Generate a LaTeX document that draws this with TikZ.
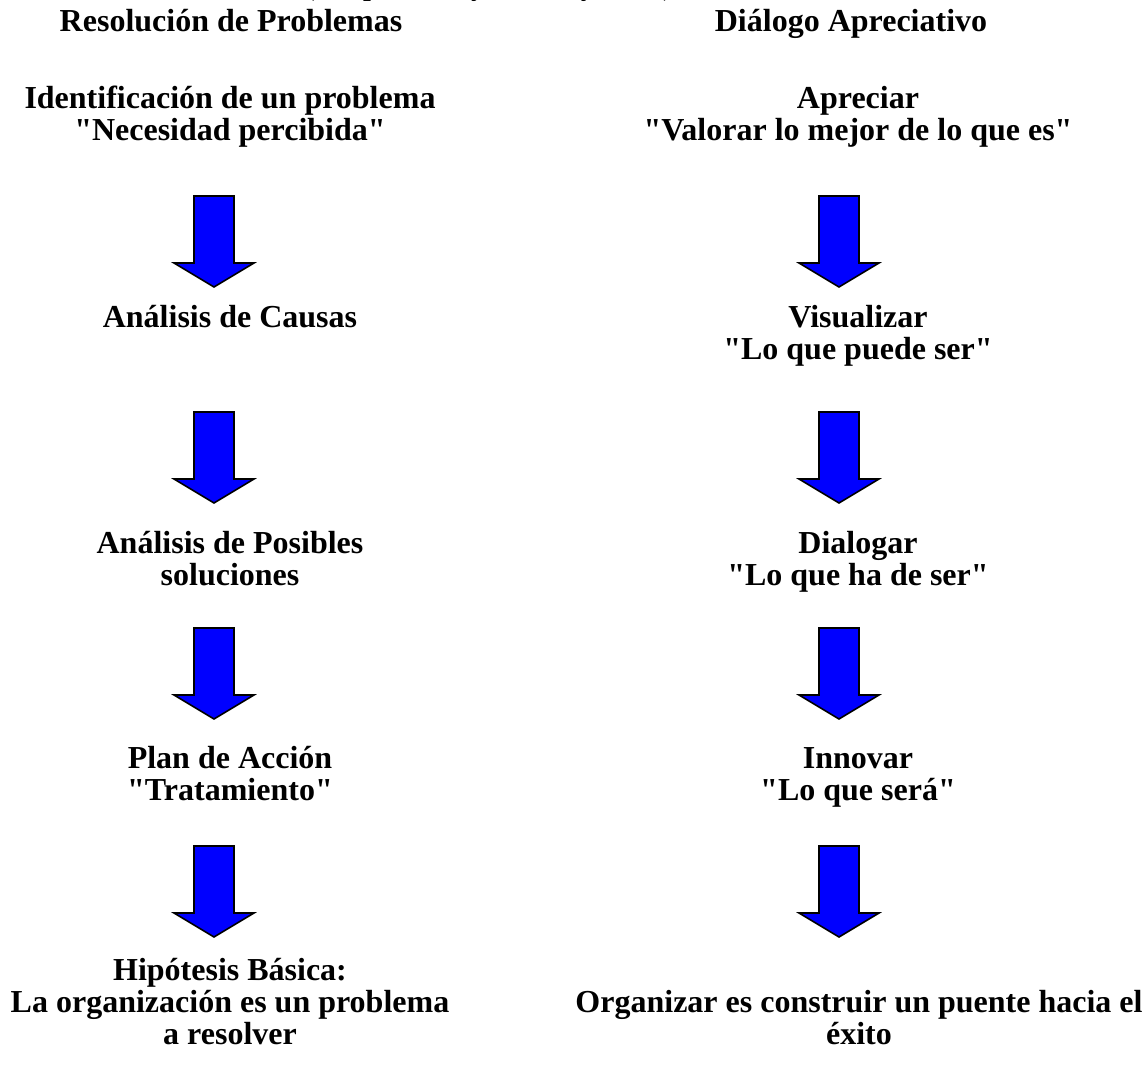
\documentclass[tikz,border=0pt]{standalone}
\usepackage{fontspec}
\setmainfont{Liberation Serif}[Ligatures=TeXOff]
\tikzset{
  lbl/.style={font={\fontsize{32}{32}\selectfont\bfseries}, align=center, anchor=base, inner sep=0pt},
  ttl/.style={font={\fontsize{28}{30}\selectfont\bfseries}, align=center, anchor=base, inner sep=0pt},
  blockarrow/.style={fill={rgb,255:red,0;green,0;blue,255}, draw=black, line width=1.6pt, line join=miter},
  darrow/.pic={\draw[blockarrow] (-20,0) -- (20,0) -- (20,67) -- (40,67) -- (0,91) -- (-40,67) -- (-20,67) -- cycle;}
}
\begin{document}
\begin{tikzpicture}[x=1pt,y=-1pt]
\useasboundingbox (0,0) rectangle (1145,1067);
\clip (0,0) rectangle (1145,1067);
\fill[white] (0,0) rectangle (1145,1067);
\node[ttl] (cite) at (489,-4.5) {(Cooperrider y Whitney, 2001)};
\node[lbl] (hl) at (231,32) {Resolución de Problemas};
\node[lbl] (hr) at (851,32) {Diálogo Apreciativo};
\node[lbl] (l0) at (230,141) {Identificación de un problema\\"Necesidad percibida"};
\node[lbl] (r0) at (858,141) {Apreciar\\"Valorar lo mejor de lo que es"};
\node[lbl] (l1) at (230,327) {Análisis de Causas};
\node[lbl] (r1) at (858,359) {Visualizar\\"Lo que puede ser"};
\node[lbl] (l2) at (230,585) {Análisis de Posibles\\soluciones};
\node[lbl] (r2) at (858,585) {Dialogar\\"Lo que ha de ser"};
\node[lbl] (l3) at (230,800) {Plan de Acción\\"Tratamiento"};
\node[lbl] (r3) at (858,800) {Innovar\\"Lo que será"};
\node[lbl] (l4) at (230,1044) {Hipótesis Básica:\\La organización es un problema\\a resolver};
\node[lbl] (r4) at (859,1044) {Organizar es construir un puente hacia el\\éxito};
\pic (la1) at (214,196) {darrow};
\pic (la2) at (214,412) {darrow};
\pic (la3) at (214,628) {darrow};
\pic (la4) at (214,846) {darrow};
\pic (ra1) at (839,196) {darrow};
\pic (ra2) at (839,412) {darrow};
\pic (ra3) at (839,628) {darrow};
\pic (ra4) at (839,846) {darrow};
\end{tikzpicture}
\end{document}
